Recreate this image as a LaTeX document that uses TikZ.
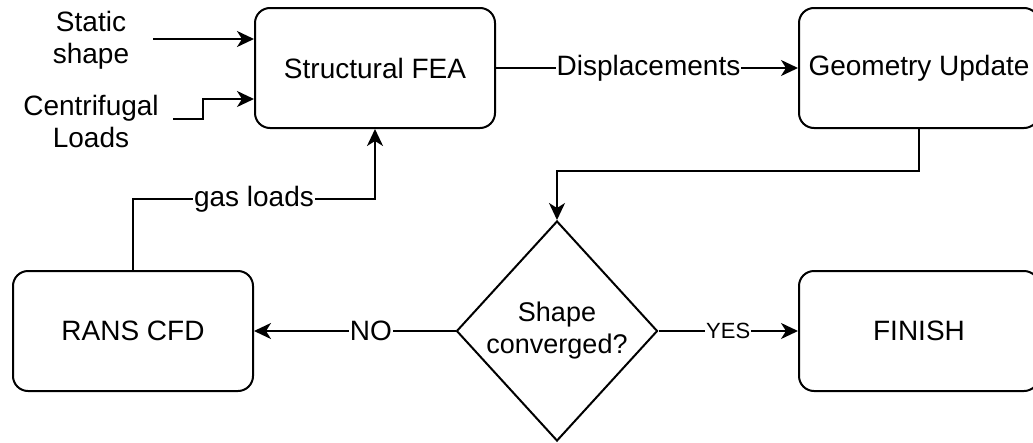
\documentclass[tikz,border=0pt]{standalone}
\usepackage{fontspec}
\setmainfont{Liberation Sans}
\usetikzlibrary{arrows.meta,shapes.geometric}
\begin{document}
\begin{tikzpicture}[x=1pt,y=-1pt,
  box/.style={draw, rounded corners=15pt, minimum width=240pt, minimum height=120pt,
    line width=2pt, font=\fontsize{28}{32}\selectfont, align=center, inner sep=0pt},
  dia/.style={draw, shape=diamond, aspect=0.909, inner sep=0pt, minimum width=201pt,
    minimum height=220pt, line width=2pt, font=\fontsize{27}{32}\selectfont, align=center},
  txt/.style={font=\fontsize{28}{32}\selectfont, align=center, inner sep=0pt},
  conn/.style={line width=2pt, -{Stealth[length=17pt,width=16pt,inset=5pt]}},
  lbl/.style={fill=white, inner sep=1pt, font=\fontsize{28}{32}\selectfont},
]
\useasboundingbox (0,0) rectangle (1033,442);

\node[box] (fea) at (375,68) {Structural FEA};
\node[box] (geo) at (919,68) {Geometry Update};
\node[box] (cfd) at (133,331) {RANS CFD};
\node[box] (fin) at (919,331) {FINISH};
\node[dia] (conv) at (557,331) {Shape\\converged?};
\node[txt] (static) at (91,40) {Static\\shape};
\node[txt] (cent) at (91,121) {Centrifugal\\Loads};

\coordinate (s0) at (153,39);
\coordinate (c0) at (173,119);
\coordinate (c1) at (203,99);

\draw[conn] (s0) -- (fea.west |- s0);
\draw[conn] (c0) -- (c0 -| c1) -- (c1) -- (fea.west |- c1);
\draw[conn] (fea.east) -- node[lbl, pos=0.505] {Displacements} (geo.west);
\draw[conn] (geo.south) -- ++(0,42) -| (conv.north);
\draw[conn] (conv.west) -- node[lbl, pos=0.42] {NO} (cfd.east);
\draw[conn] (conv.east) -- node[lbl, font=\fontsize{22}{26}\selectfont] {YES} (fin.west);
\draw[conn] (cfd.north) -- ++(0,-71) -| node[lbl, pos=0.25] {gas loads} (fea.south);
\end{tikzpicture}
\end{document}
